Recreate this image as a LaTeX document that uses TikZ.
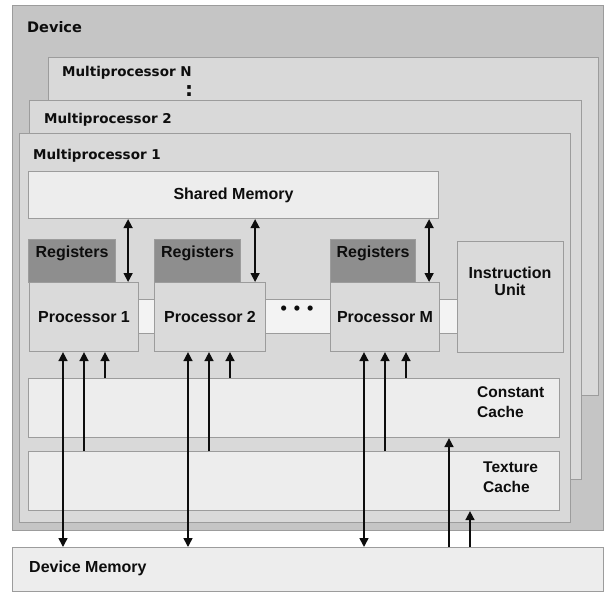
\documentclass[tikz,border=0pt]{standalone}
\usepackage{fontspec}
\setmainfont{Liberation Sans}
\newfontfamily\mpfont{DejaVu Sans}
\usepackage{tikz}
\usetikzlibrary{calc,positioning,arrows.meta}

\definecolor{devgray}{HTML}{C5C5C5}
\definecolor{mpgray}{HTML}{D9D9D9}
\definecolor{light}{HTML}{EDEDED}
\definecolor{barwhite}{HTML}{F3F3F3}
\definecolor{reggray}{HTML}{8E8E8E}
\definecolor{procgray}{HTML}{DADADA}
\definecolor{edge}{HTML}{9C9C9C}
\definecolor{ink}{HTML}{0D0D0D}

\begin{document}
\begin{tikzpicture}[x=1pt,y=-1pt,
  box/.style={draw=edge,line width=1.1pt,inner sep=0pt,anchor=north west},
  mptext/.style={font=\mpfont\bfseries\fontsize{13.5}{16}\selectfont,text=ink,inner sep=0pt,anchor=base west},
  boxtext/.style={font=\bfseries\fontsize{16}{17}\selectfont,text=ink,inner sep=0pt},
  cachetext/.style={font=\bfseries\fontsize{15.5}{20}\selectfont,text=ink,inner sep=0pt,align=left,anchor=west},
  arr/.style={ink,line width=1.6pt,-{Triangle[length=9pt,width=9pt]}},
  dblarr/.style={ink,line width=1.6pt,{Triangle[length=9pt,width=9pt]}-{Triangle[length=9pt,width=9pt]}}]

\fill[white] (0,0) rectangle (607,596);
\useasboundingbox (0,0) rectangle (607,596);

% device and the multiprocessors
\node[box,fill=devgray,minimum width=591pt,minimum height=525pt] (dev) at (12,5) {};
\node[box,fill=mpgray,minimum width=550pt,minimum height=338pt] (mpN) at (48,57) {};
\node[box,fill=mpgray,minimum width=552pt,minimum height=379pt] (mp2) at (29,100) {};
\node[box,fill=mpgray,minimum width=551pt,minimum height=389pt] (mp1) at (19,133) {};

\node[mptext,font=\mpfont\bfseries\fontsize{14.5}{16}\selectfont] (devlbl) at (27,33) {Device};
\node[mptext] (mpNlbl) at (62,77) {Multiprocessor N};
\node[mptext] (mp2lbl) at (44,124) {Multiprocessor 2};
\node[mptext] (mp1lbl) at (33,160) {Multiprocessor 1};
\node[text=ink,inner sep=0pt,font=\mpfont\bfseries\fontsize{20}{20}\selectfont] (vdots) at (189,91) {:};

% shared memory, registers, processors
\node[box,fill=light,minimum width=410pt,minimum height=47pt,boxtext] (shm) at (28,171) {Shared Memory};
\node[box,fill=barwhite,minimum width=319pt,minimum height=34pt] (bar) at (138,299) {};

\foreach \n/\x/\w in {1/28/87,2/154/86,M/330/85}{
  \node[box,fill=reggray,minimum width=\w pt,minimum height=43pt] (reg\n) at (\x,239) {};
  \node[boxtext,anchor=base] (reglbl\n) at ([yshift=-18pt]reg\n.north) {Registers};
}
\foreach \n/\x/\w in {1/29/109,2/154/111,M/330/109}
  \node[box,fill=procgray,minimum width=\w pt,minimum height=69pt,boxtext] (p\n) at (\x,282) {Processor \n};

\node[boxtext,font=\bfseries\fontsize{18}{18}\selectfont] (dots) at (297,310) {•\hspace{7pt}•\hspace{7pt}•};

\node[box,fill=procgray,minimum width=106pt,minimum height=111pt] (iu) at (457,241) {};
\node[boxtext,align=center] (iulbl) at (510,281) {Instruction\\Unit};

% caches and device memory
\node[box,fill=light,minimum width=531pt,minimum height=59pt] (cc) at (28,378) {};
\node[cachetext] (cclbl) at (477,402) {Constant\\Cache};
\node[box,fill=light,minimum width=531pt,minimum height=59pt] (tc) at (28,451) {};
\node[cachetext] (tclbl) at (483,477) {Texture\\Cache};

\node[box,fill=light,minimum width=591pt,minimum height=44pt] (dm) at (12,547) {};
\node[boxtext,anchor=west] (dmlbl) at (29,568) {Device Memory};

% arrows
\foreach \p in {p1,p2,pM}{
  \draw[dblarr] ([xshift=-11pt]\p.north east |- shm.south) -- ([xshift=-11pt]\p.north east);
  \draw[dblarr] ([xshift=34pt]\p.south west) -- ([xshift=34pt]\p.south west |- dm.north);
  \draw[arr] ([xshift=55pt]\p.south west |- tc.north) -- ([xshift=55pt]\p.south west);
  \draw[arr] ([xshift=76pt]\p.south west |- cc.north) -- ([xshift=76pt]\p.south west);
}
\draw[arr] ([xshift=437pt]dm.north west) -- ([xshift=437pt]dm.north west |- cc.south);
\draw[arr] ([xshift=458pt]dm.north west) -- ([xshift=458pt]dm.north west |- tc.south);
\end{tikzpicture}
\end{document}
